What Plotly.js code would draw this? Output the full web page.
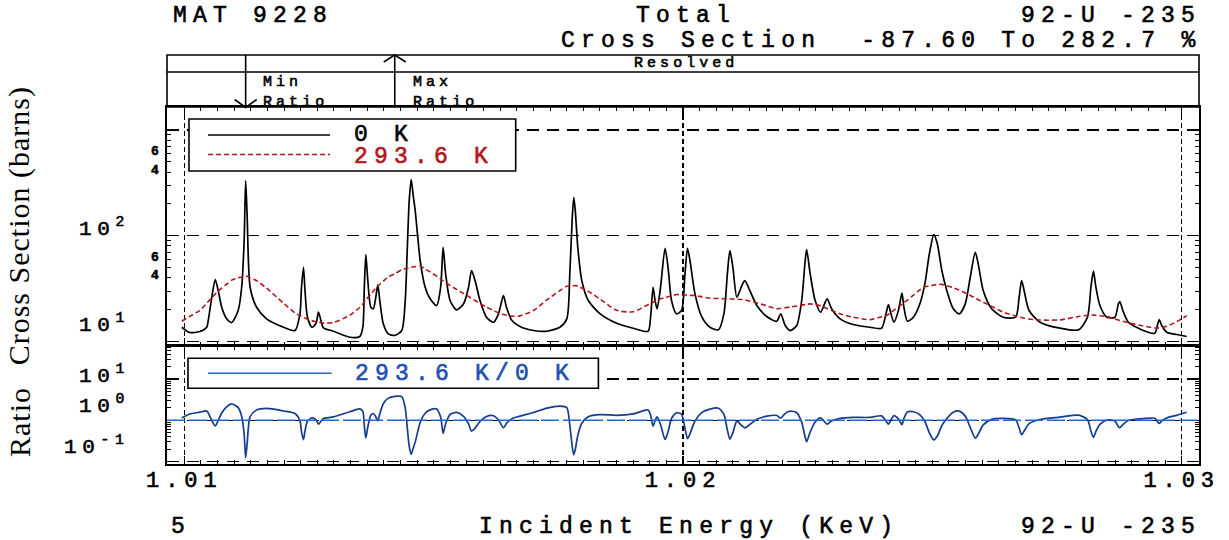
<!DOCTYPE html>
<html><head><meta charset="utf-8">
<script src="https://cdn.plot.ly/plotly-3.0.1.min.js"></script>
<style>
html,body{margin:0;padding:0;background:#fff;}
#chart{width:1229px;height:540px;}
text{letter-spacing:0.27em;}
text[style*="Liberation Mono"][style*="fill: rgb(0, 0, 0)"]{stroke:#000;stroke-width:0.6px;}
text[style*="Liberation Mono"][style*="fill: rgb(179, 22, 27)"]{stroke:#b3161b;stroke-width:0.6px;}
text[style*="Liberation Mono"][style*="fill: rgb(31, 79, 180)"]{stroke:#1f4fb4;stroke-width:0.6px;}
</style>
</head><body><div id="chart"></div>
<script>
// ---- data ----
const energy = [1.00995,1.01011,1.01031,1.01045,1.01048,1.01055,1.01062,1.01068,1.01075,1.01085,1.01095,1.01108,1.01115,1.01120,1.01123,1.01126,1.01132,1.01145,1.01165,1.01199,1.01222,1.01232,1.01235,1.01239,1.01242,1.01247,1.01256,1.01264,1.01269,1.01274,1.01279,1.01299,1.01332,1.01352,1.01358,1.01361,1.01364,1.01368,1.01374,1.01379,1.01384,1.01388,1.01392,1.01399,1.01409,1.01422,1.01436,1.01443,1.01447,1.01451,1.01455,1.01459,1.01463,1.01473,1.01483,1.01493,1.01506,1.01514,1.01519,1.01524,1.01533,1.01546,1.01560,1.01570,1.01576,1.01583,1.01593,1.01606,1.01620,1.01630,1.01640,1.01646,1.01657,1.01673,1.01700,1.01727,1.01753,1.01767,1.01773,1.01778,1.01781,1.01784,1.01789,1.01797,1.01810,1.01834,1.01867,1.01900,1.01930,1.01935,1.01940,1.01944,1.01948,1.01955,1.01964,1.01970,1.01977,1.01987,1.01997,1.02004,1.02009,1.02014,1.02024,1.02038,1.02054,1.02071,1.02082,1.02089,1.02094,1.02100,1.02108,1.02118,1.02124,1.02134,1.02148,1.02168,1.02188,1.02196,1.02205,1.02215,1.02228,1.02238,1.02245,1.02248,1.02255,1.02265,1.02276,1.02289,1.02298,1.02315,1.02341,1.02375,1.02398,1.02407,1.02412,1.02417,1.02423,1.02432,1.02439,1.02443,1.02450,1.02462,1.02475,1.02485,1.02494,1.02503,1.02510,1.02519,1.02529,1.02542,1.02554,1.02566,1.02576,1.02586,1.02592,1.02602,1.02619,1.02642,1.02667,1.02674,1.02679,1.02684,1.02694,1.02716,1.02756,1.02793,1.02811,1.02818,1.02823,1.02828,1.02836,1.02850,1.02866,1.02873,1.02876,1.02882,1.02893,1.02923,1.02946,1.02952,1.02955,1.02960,1.02970,1.02990,1.03010];
const xs0K = [13.64,12.15,12.42,13.64,15.78,26.03,38.53,30.32,21.08,16.38,15.11,19.62,32.37,90.1,332,155.2,32.58,21.08,16.38,13.64,12.69,18.38,32.58,50.36,30.32,16.96,13.64,14.78,18.91,15.78,13.46,12.5,10.97,11.14,13.64,32.58,66.42,37.7,21.08,20.36,26.2,34.34,24.39,14.69,11.81,11.4,12.69,24.39,72.45,215.2,340,240,173.1,58.29,32.58,25.31,21.88,32.58,77.84,43.63,24.39,19.92,22.7,32.58,46.87,37.7,24.39,16.96,15.21,18.26,27.2,21.08,15.78,13.85,12.69,12.5,13.64,16.38,43.63,149.6,231.2,173.1,77.84,37.7,24.39,18.26,14.88,13.35,12.5,16.96,32.58,24.39,20.36,32.58,76.16,50.36,24.39,18.26,19.62,43.63,76.16,58.29,28.22,16.96,13.64,12.89,18.26,43.63,72.45,50.36,26.2,33.81,37.7,30.32,21.88,17.22,15.54,18.26,14.15,12.69,14.15,24.39,58.29,74.04,43.63,24.39,18.91,25.31,20.36,16.38,14.47,13.64,13.35,18.26,22.36,18.26,15.21,19.62,28.6,21.08,15.54,16.96,22.7,35.09,67.43,102.6,83.83,46.87,30.32,20.36,18.26,22.7,40.52,69.82,54.24,30.32,20.36,16.96,16.96,26.2,37.7,30.32,19.62,15.21,13.35,12.89,16.96,32.58,46.17,32.58,21.88,16.96,16.96,22.7,23.86,19.62,15.21,12.69,11.97,14.69,16.12,14.15,12.23,11.63,11.14];
const xs293K = [15.54,17.28,19.62,23.02,23.91,25.94,28.07,30.06,31.9,34.83,38.03,39.96,40.55,40.96,41.23,41.3,40.09,37.53,31.87,23.01,18.56,17.59,17.26,16.97,16.66,16.25,15.66,15.38,15.23,15.07,14.9,15.11,17.72,21.08,22.62,23.58,24.65,25.97,27.87,29.82,31.99,33.23,34.77,37.13,40.97,43.6,47.71,48.75,49.5,50.14,50.48,50.7,51.03,51.7,48.51,45.5,41.43,38.97,37.46,36.12,33.81,30.98,28.44,26.63,25.47,24.4,22.85,21.09,19.63,18.6,17.99,17.72,17.34,17.46,19.62,24.75,30.25,33.3,33.47,33.59,33.66,33.74,33.45,32.02,29.8,25.11,19.72,19.08,22.27,22.86,23.52,23.96,24.57,25.41,26.02,26.5,27.02,27.8,27.61,27.49,27.43,27.31,27.2,26.4,25.64,25.47,25.37,25.29,25.26,25.2,25.12,24.98,24.71,24.02,23.15,21.73,20.36,20.61,20.87,21.19,21.66,22.05,22.31,22.45,22.7,22.28,21.74,20.45,19.66,18.26,16.98,16.06,17.12,17.53,18.06,18.79,19.82,21.27,22.48,23.34,24.65,27.37,30.76,32.84,33.47,34.18,34.67,34.69,33.59,32.17,30.58,28.72,27.18,25.73,24.83,23.52,21.48,18.95,17.45,17.05,16.83,16.59,16.29,15.95,16.0,17.22,17.72,17.84,17.74,17.64,17.49,17.22,16.31,15.96,15.79,15.51,15.04,13.99,13.43,13.4,13.49,13.64,13.94,15.4,17.49];
const tickEnergies = [1.01, 1.02, 1.03];
const tickLabels = ['1.01', '1.02', '1.03'];
const seriesNames = ['0 K', '293.6 K', '293.6 K/0 K'];

// ratio 293.6 K / 0 K from the two series
const ratio = xs293K.map((v, i) => v / xs0K[i]);
let iMin = 0, iMax = 0;
ratio.forEach((r, i) => { if (r < ratio[iMin]) iMin = i; if (r > ratio[iMax]) iMax = i; });

// ---- geometry ----
const W = 1229, H = 540, ML = 167, MR = 30, MT = 55, MB = 76;
const PW = W - ML - MR, PH = H - MT - MB;
const px = p => (p - ML) / PW;          // pixel x -> paper
const py = p => (H - MB - p) / PH;      // pixel y -> paper
const xRange = [1.009653, 1.030347];
const mainDom = [py(345.7), py(107)];
const ratDom = [0, py(345.7)];
const pxPerE = PW / (xRange[1] - xRange[0]);

const mono = 'Liberation Mono, Courier New, monospace';
const serif = 'Liberation Serif, Times New Roman, serif';
const RED = '#b3161b', NAVY = '#163c8e', BLUE = '#1f66d6', TXTBLUE = '#1f4fb4';

const traces = [
  {x: energy, y: xs0K, name: seriesNames[0], xaxis: 'x2', yaxis: 'y', mode: 'lines',
   line: {color: '#000', width: 1.7, shape: 'spline', smoothing: 0.7}},
  {x: energy, y: xs293K, name: seriesNames[1], xaxis: 'x2', yaxis: 'y', mode: 'lines',
   line: {color: RED, width: 1.6, dash: '5px,3px', shape: 'spline', smoothing: 0.7}},
  {x: energy, y: ratio, name: seriesNames[2], xaxis: 'x', yaxis: 'y2', mode: 'lines',
   line: {color: NAVY, width: 1.7, shape: 'spline', smoothing: 0.7}}
];

const xBase = {
  range: xRange, tickmode: 'array', tickvals: tickEnergies, ticktext: tickLabels,
  ticks: 'inside', ticklen: 8, tickwidth: 1.5, tickcolor: '#000',
  mirror: 'allticks', showline: true, linewidth: 1.6, linecolor: '#000',
  showgrid: true, gridcolor: '#000', gridwidth: 1.5, griddash: '5px,3px', zeroline: false,
  minor: {ticks: 'inside', ticklen: 4, tickwidth: 1, tickcolor: '#000', dtick: 0.01/30, showgrid: false}
};
const yBase = {
  type: 'log', ticks: 'inside', ticklen: 9, tickwidth: 1.5, tickcolor: '#000',
  mirror: 'allticks', showline: true, linewidth: 1.6, linecolor: '#000',
  showgrid: true, gridcolor: '#000', gridwidth: 1.5, griddash: '12px,8px', zeroline: false,
  showticklabels: false, tickmode: 'array',
  minor: {ticks: 'inside', ticklen: 4, tickwidth: 1, tickcolor: '#000', dtick: 'D1', showgrid: false}
};

const layout = {
  width: W, height: H, margin: {l: ML, r: MR, t: MT, b: MB},
  paper_bgcolor: '#fff', plot_bgcolor: '#fff', showlegend: false,
  font: {family: mono, color: '#000'},
  xaxis: Object.assign({}, xBase, {domain: [0, 1], anchor: 'y2', showticklabels: true,
    tickfont: {family: mono, size: 22, color: '#000'}, ticklabelstandoff: -5}),
  xaxis2: Object.assign({}, xBase, {domain: [0, 1], anchor: 'y', matches: 'x', showticklabels: false}),
  yaxis: Object.assign({}, yBase, {domain: mainDom, range: [0.96, 3.2175], tickvals: [10, 100, 1000]}),
  yaxis2: Object.assign({}, yBase, {domain: ratDom, range: [-1.063, 1.816], tickvals: [0.1, 1, 10]}),
  shapes: [], annotations: []
};

const S = layout.shapes, A = layout.annotations;
const blk = {color: '#000', width: 1.6};
// header box
S.push({type: 'rect', xref: 'paper', yref: 'paper', x0: 0, x1: 1, y0: py(107), y1: 1, line: blk});
S.push({type: 'line', xref: 'paper', yref: 'paper', x0: 0, x1: 1, y0: py(72), y1: py(72), line: blk});
// min / max ratio markers
const eMin = energy[iMin], eMax = energy[iMax], dE = 11 / pxPerE;
S.push({type: 'line', xref: 'x', yref: 'paper', x0: eMin, x1: eMin, y0: py(107), y1: 1, line: blk});
S.push({type: 'path', xref: 'x', yref: 'paper', line: blk,
  path: `M ${eMin - dE} ${py(99.5)} L ${eMin} ${py(107.5)} L ${eMin + dE} ${py(99.5)}`});
S.push({type: 'line', xref: 'x', yref: 'paper', x0: eMax, x1: eMax, y0: py(107), y1: 1, line: blk});
S.push({type: 'path', xref: 'x', yref: 'paper', line: blk,
  path: `M ${eMax - dE} ${py(62)} L ${eMax} ${py(55)} L ${eMax + dE} ${py(62)}`});
// ratio = 1 reference
S.push({type: 'line', xref: 'paper', yref: 'y2', x0: 0, x1: 1, y0: 1, y1: 1, layer: 'above',
  line: {color: BLUE, width: 1.6, dash: '18px,4px'}});
// legends
S.push({type: 'rect', xref: 'paper', yref: 'paper', x0: px(189), x1: px(515.7), y0: py(171), y1: py(119),
  line: blk, fillcolor: '#fff', layer: 'above'});
S.push({type: 'line', xref: 'paper', yref: 'paper', x0: px(208), x1: px(330), y0: py(135), y1: py(135),
  line: {color: '#000', width: 1.6}, layer: 'above'});
S.push({type: 'line', xref: 'paper', yref: 'paper', x0: px(208), x1: px(330), y0: py(154.5), y1: py(154.5),
  line: {color: RED, width: 1.6, dash: '5px,3px'}, layer: 'above'});
S.push({type: 'rect', xref: 'paper', yref: 'paper', x0: px(188), x1: px(598.4), y0: py(388.3), y1: py(358.3),
  line: blk, fillcolor: '#fff', layer: 'above'});
S.push({type: 'line', xref: 'paper', yref: 'paper', x0: px(208), x1: px(331.7), y0: py(373.3), y1: py(373.3),
  line: {color: BLUE, width: 1.6}, layer: 'above'});

function txt(text, x, y, opts) {
  A.push(Object.assign({text: text, x: x, y: y, xref: 'paper', yref: 'paper', showarrow: false,
    xanchor: 'left', yanchor: 'middle', font: {family: mono, size: 23, color: '#000'}}, opts || {}));
}
// titles
txt('MAT 9228', px(170.6), py(16));
txt('Total', px(686), py(16), {xanchor: 'center'});
txt('92-U -235', px(1203), py(16), {xanchor: 'right'});
txt('Cross Section  -87.60 To 282.7 %', px(1203), py(41), {xanchor: 'right'});
txt('5', px(168.7), py(526.5));
txt('Incident Energy (KeV)', px(689), py(526.5), {xanchor: 'center'});
txt('92-U -235', px(1203), py(526.5), {xanchor: 'right'});
// header texts
const small = {family: mono, size: 15, color: '#000'};
txt('Resolved', px(686), py(63.5), {xanchor: 'center', font: small});
txt('Min<br>Ratio', px(261), py(92.5), {font: small, align: 'left'});
txt('Max<br>Ratio', px(411), py(92.5), {font: small, align: 'left'});
// legend texts
txt(seriesNames[0], px(352), py(134.5));
txt(seriesNames[1], px(352), py(156.5), {font: {family: mono, size: 23, color: RED}});
txt(seriesNames[2], px(353), py(373.5), {font: {family: mono, size: 23, color: TXTBLUE}});
// axis titles
const ttl = {family: serif, size: 30, color: '#000'};
txt('<span style="letter-spacing:1px">Cross Section (barns)</span>', px(19), (mainDom[0] + mainDom[1]) / 2,
  {xanchor: 'center', textangle: -90, font: ttl});
txt('<span style="letter-spacing:1px">Ratio</span>', px(19), py(422),
  {xanchor: 'center', textangle: -90, font: ttl});
// y tick labels
const lab = {family: mono, size: 21, color: '#000'};
function ylab(text, yref, v, shift) {
  A.push({text: text, xref: 'paper', yref: yref, x: px(132), y: Math.log10(v), yshift: shift,
    xanchor: 'right', yanchor: 'middle', showarrow: false, font: lab});
}
ylab('10<sup>2</sup>', 'y', 100, 8);
ylab('10<sup>1</sup>', 'y', 10, 18);
ylab('10<sup>1</sup>', 'y2', 10, 5);
ylab('10<sup>0</sup>', 'y2', 1, 16);
ylab('10<sup>-1</sup>', 'y2', 0.1, 16);
const minorLab = {family: mono, size: 13, color: '#000'};
[600, 400, 60, 40].forEach(v => {
  A.push({text: '<b>' + String(v).charAt(0) + '</b>', xref: 'paper', yref: 'y', x: px(164), y: Math.log10(v),
    yshift: 2, xanchor: 'right', yanchor: 'middle', showarrow: false, font: minorLab});
});

Plotly.newPlot('chart', traces, layout, {displayModeBar: false, staticPlot: true});
</script>
</body></html>
